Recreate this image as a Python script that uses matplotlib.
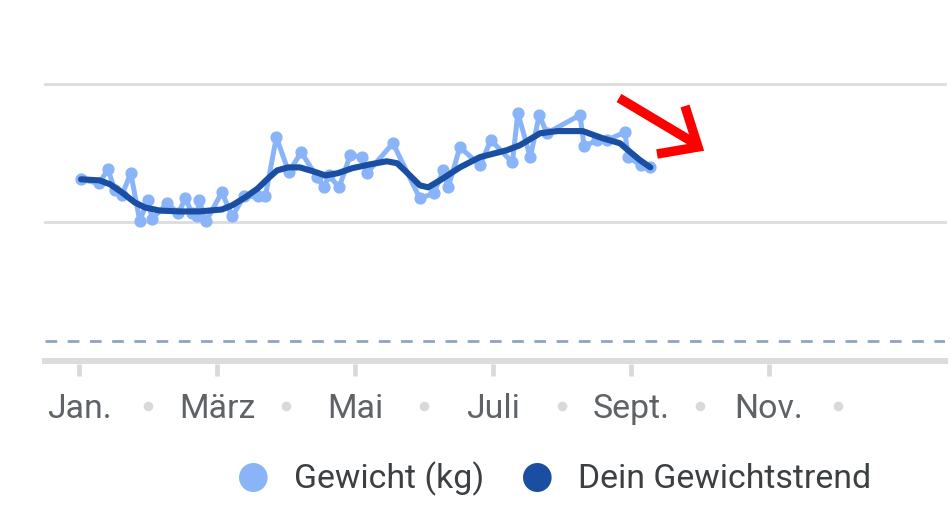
import matplotlib
matplotlib.use("Agg")
import matplotlib.pyplot as plt
from matplotlib.lines import Line2D
from matplotlib.transforms import blended_transform_factory

plt.rcParams['font.family'] = ['Roboto', 'DejaVu Sans']

# ---- data (x in months since Jan 1, evenly spaced months) ----
weight_month = [0.03, 0.29, 0.42, 0.52, 0.62, 0.75, 0.88, 1.00, 1.06, 1.28, 1.44, 1.54,
                1.64, 1.71, 1.74, 1.84, 2.07, 2.22, 2.39, 2.59, 2.70, 2.86, 3.04, 3.22,
                3.45, 3.55, 3.62, 3.77, 3.93, 4.10, 4.17, 4.55, 4.94, 5.14, 5.28, 5.35,
                5.52, 5.81, 5.97, 6.28, 6.36, 6.54, 6.67, 6.78, 7.26, 7.32, 7.51, 7.65,
                7.91, 7.96, 8.14, 8.28]
weight_kg = [71.56, 71.41, 71.92, 71.16, 70.98, 71.78, 70.07, 70.80, 70.14, 70.69, 70.33, 70.87,
             70.33, 70.22, 70.80, 70.04, 71.09, 70.22, 70.94, 70.94, 70.94, 73.08, 71.81, 72.54,
             71.63, 71.27, 71.70, 71.27, 72.43, 72.36, 71.78, 72.86, 70.87, 71.05, 71.88, 71.27,
             72.72, 72.07, 72.97, 72.17, 73.95, 72.36, 73.88, 73.22, 73.88, 72.75, 72.97, 72.97,
             73.26, 72.36, 72.07, 71.99]

trend_month = [0.03, 0.30, 0.45, 0.62, 0.81, 0.96, 1.17, 1.46, 1.75, 2.07, 2.22, 2.41,
               2.59, 2.74, 2.87, 3.03, 3.20, 3.39, 3.57, 3.75, 3.96, 4.22, 4.46, 4.61,
               4.75, 4.94, 5.06, 5.23, 5.52, 5.81, 6.20, 6.39, 6.68, 6.93, 7.30, 7.59,
               7.84, 7.99, 8.13, 8.28]
trend_kg = [71.56, 71.52, 71.38, 71.09, 70.72, 70.54, 70.43, 70.40, 70.40, 70.47, 70.62, 70.91,
            71.23, 71.59, 71.88, 71.99, 71.99, 71.85, 71.70, 71.78, 71.96, 72.10, 72.21, 72.14,
            71.81, 71.34, 71.27, 71.52, 71.99, 72.36, 72.61, 72.79, 73.22, 73.30, 73.30, 73.04,
            72.86, 72.54, 72.25, 71.99]

month_labels = ["Jan.", "März", "Mai", "Juli", "Sept.", "Nov."]
label_months = [0, 2, 4, 6, 8, 10]
dot_months = [1, 3, 5, 7, 9, 11]
grid_values = [70, 75]
target_kg = 65.72

LIGHT = "#8ab4f8"
DARK = "#1a4ea2"

fig = plt.figure(figsize=(9.5, 5.26), dpi=100)
W, H = 950, 526
ax = fig.add_axes([45 / W, (H - 361) / H, 900 / W, 277 / H])
ax.set_xlim(-0.493, 12.55)
ax.set_ylim(65, 75)
for s in ax.spines.values():
    s.set_visible(False)
ax.set_yticks([])
ax.set_xticks([])

for g in grid_values:
    ax.axhline(g, color="#dcdcdc", lw=2.0, zorder=1, clip_on=False)
ax.axhline(target_kg, color="#8fa5bf", lw=2.0, dashes=(4.2, 3.8), zorder=1)
ax.axhline(65, color="#dcdcdc", lw=4.3, zorder=2, clip_on=False)

trans = blended_transform_factory(ax.transData, ax.transAxes)
for m, lab in zip(label_months, month_labels):
    ax.add_line(Line2D([m, m], [-0.01, -0.054], transform=trans, color="#d9d9d9",
                       lw=3.4, solid_capstyle="butt", clip_on=False))
    ax.text(m, -0.2040, lab, transform=trans, ha="center", va="baseline",
            fontsize=24.4, color="#5f6368")
ax.scatter(dot_months, [-0.163] * len(dot_months), transform=trans, s=48,
           color="#d9d9d9", clip_on=False, linewidths=0)

ax.plot(weight_month, weight_kg, color=LIGHT, lw=3.6, marker="o", ms=7.8,
        solid_joinstyle="round", zorder=3)
ax.plot(trend_month, trend_kg, color=DARK, lw=4.4, solid_capstyle="round",
        solid_joinstyle="round", zorder=4)

# red arrow annotation (pixel positions converted to axes fractions)
def ax_frac(px, py):
    return ((px - 45) / 900, (361 - py) / 277)

shaft = [(619, 98), (696, 144)]
head = [(685, 106), (698, 147), (657, 154)]
for pts in (shaft, head):
    xs = [ax_frac(*p)[0] for p in pts]
    ys = [ax_frac(*p)[1] for p in pts]
    ax.add_line(Line2D(xs, ys, transform=ax.transAxes, color="#ff0000", lw=6.8,
                       solid_capstyle="butt", solid_joinstyle="miter", clip_on=False, zorder=5))

# legend
fig.text(253 / W, (H - 477) / H, "●", ha="center", va="center", fontsize=27,
         color=LIGHT, family=["DejaVu Sans"])
fig.text(294 / W, (H - 488) / H, "Gewicht (kg)", ha="left", va="baseline",
         fontsize=24.4, color="#3c4043")
fig.text(537 / W, (H - 477) / H, "●", ha="center", va="center", fontsize=27,
         color=DARK, family=["DejaVu Sans"])
fig.text(578 / W, (H - 488) / H, "Dein Gewichtstrend", ha="left", va="baseline",
         fontsize=24.4, color="#3c4043")

fig.savefig("out.png", dpi=100, facecolor="white")
